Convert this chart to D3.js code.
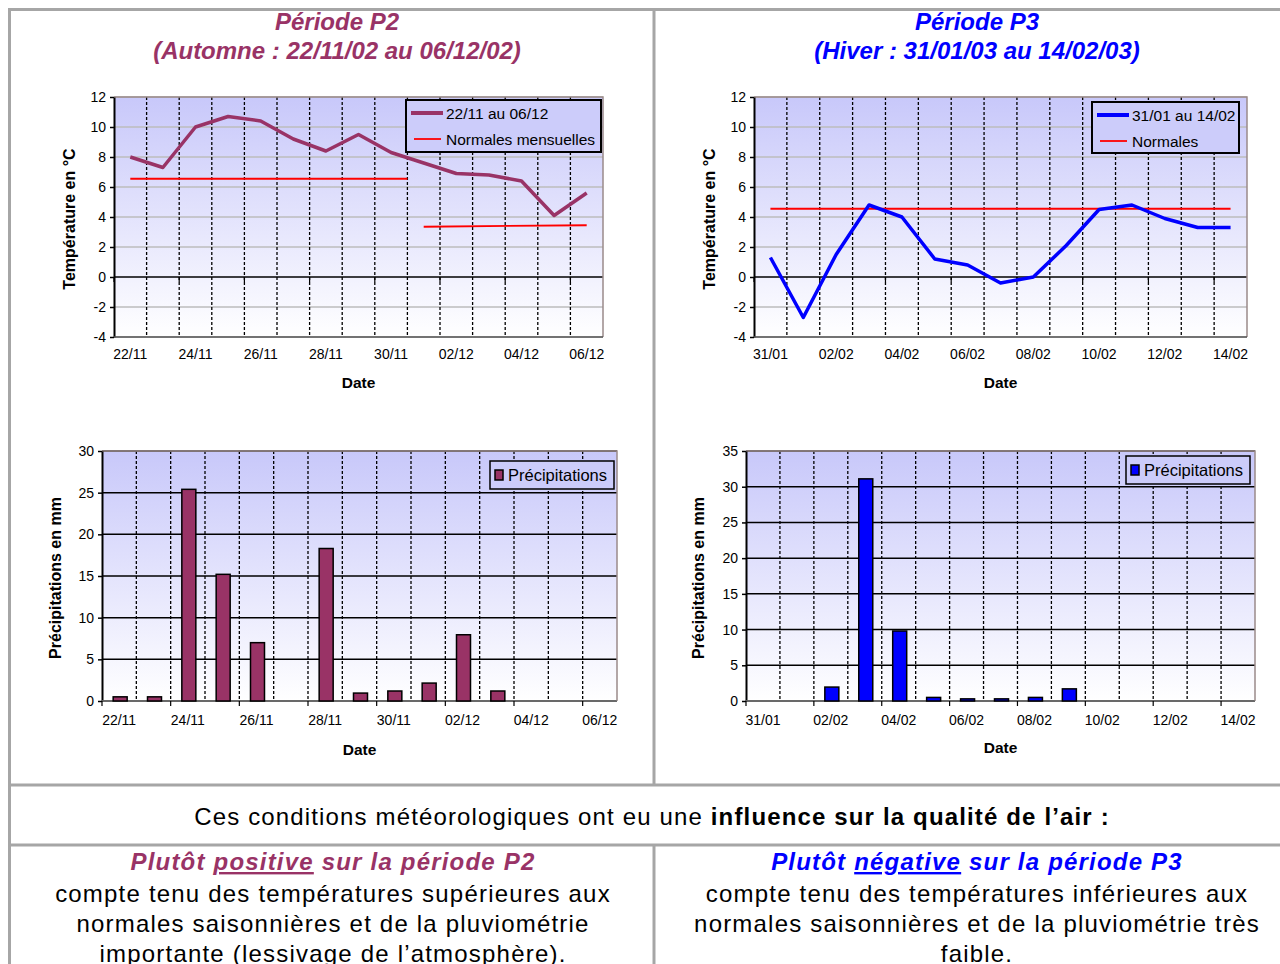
<!DOCTYPE html>
<html>
<head>
<meta charset="utf-8">
<script src="https://cdn.jsdelivr.net/npm/d3@7"></script>
<style>
  body { margin: 0; background: #fff; }
  svg text { font-family: "Liberation Sans", Arial, sans-serif; }
</style>
</head>
<body>
<script>
// --- data ---
var daysP2 = ['22/11','23/11','24/11','25/11','26/11','27/11','28/11','29/11','30/11','01/12','02/12','03/12','04/12','05/12','06/12'];
var daysP3 = ['31/01','01/02','02/02','03/02','04/02','05/02','06/02','07/02','08/02','09/02','10/02','11/02','12/02','13/02','14/02'];

var tempP2 = [8.0, 7.3, 10.0, 10.7, 10.4, 9.2, 8.4, 9.5, 8.3, 7.6, 6.9, 6.8, 6.4, 4.1, 5.6];
var tempP3 = [1.3, -2.7, 1.5, 4.8, 4.0, 1.2, 0.8, -0.4, 0.0, 2.1, 4.5, 4.8, 3.9, 3.3, 3.3];

// normals: [day index, value] segments (november runs to the month boundary)
var normP2Nov = [[0, 6.55], [8.5, 6.55]];
var normP2Dec = [[9, 3.35], [14, 3.45]];
var normP3 = [[0, 4.55], [14, 4.55]];

var rainP2 = [0.5, 0.5, 25.4, 15.2, 7.0, 0, 18.3, 0.95, 1.2, 2.15, 7.95, 1.2, 0, 0, 0];
var rainP3 = [0, 0, 1.95, 31.1, 9.8, 0.5, 0.3, 0.3, 0.5, 1.7, 0, 0, 0, 0, 0];

var tempTicks = [-4, -2, 0, 2, 4, 6, 8, 10, 12];
var rainTicksP2 = [0, 5, 10, 15, 20, 25, 30];
var rainTicksP3 = [0, 5, 10, 15, 20, 25, 30, 35];

var purple = '#993366', blue = '#0000ff', red = '#ff0000';

var svg = d3.select('body').append('svg').attr('width', 1280).attr('height', 964);

// background gradient used by every plot area
var grad = svg.append('defs').append('linearGradient').attr('id', 'bg')
    .attr('x1', 0).attr('y1', 0).attr('x2', 0).attr('y2', 1);
grad.append('stop').attr('offset', '0%').attr('stop-color', '#c8c8fa');
grad.append('stop').attr('offset', '100%').attr('stop-color', '#ffffff');

// --- table frame ---
var border = '#a6a6a6';
function hline(y, x0, x1){ svg.append('line').attr('x1', x0).attr('x2', x1).attr('y1', y).attr('y2', y).attr('stroke', border).attr('stroke-width', 3); }
function vline(x, y0, y1){ svg.append('line').attr('x1', x).attr('x2', x).attr('y1', y0).attr('y2', y1).attr('stroke', border).attr('stroke-width', 3); }
hline(9.5, 8, 1280);
hline(785, 8, 1280);
hline(845, 8, 1280);
vline(9.5, 8, 964);
vline(654, 8, 785);
vline(654, 845, 964);

function title(cx, lines, color){
    lines.forEach(function(t, i){
        svg.append('text').attr('x', cx).attr('y', 30 + i * 29)
            .attr('text-anchor', 'middle').attr('font-size', 24)
            .attr('font-weight', 'bold').attr('font-style', 'italic')
            .attr('fill', color).text(t);
    });
}
title(337, ['Période P2', '(Automne : 22/11/02 au 06/12/02)'], purple);
title(977, ['Période P3', '(Hiver : 31/01/03 au 14/02/03)'], blue);

// common frame for one chart: background, grid, axes, titles
function frame(o){
    var g = svg.append('g');
    var x = d3.scaleBand().domain(o.days).range([o.x0, o.x1]);
    var y = d3.scaleLinear().domain(o.yDomain).range([o.y1, o.y0]);

    g.append('rect').attr('x', o.x0).attr('y', o.y0)
        .attr('width', o.x1 - o.x0).attr('height', o.y1 - o.y0).attr('fill', 'url(#bg)');

    // horizontal grid
    g.selectAll('.hg').data(o.yTicks).enter().append('line')
        .attr('x1', o.x0).attr('x2', o.x1)
        .attr('y1', d => y(d)).attr('y2', d => y(d))
        .attr('stroke', d => d === 0 ? '#000' : o.gridColor)
        .attr('stroke-width', d => d === 0 ? 1.5 : o.gridWidth);

    // vertical dashed grid on category boundaries
    g.selectAll('.vg').data(o.days.slice(1)).enter().append('line')
        .attr('x1', d => x(d)).attr('x2', d => x(d))
        .attr('y1', o.y0).attr('y2', o.y1)
        .attr('stroke', '#000').attr('stroke-width', 1.3).attr('stroke-dasharray', '3,2');

    // frame right/top
    g.append('path').attr('d', 'M' + o.x0 + ',' + o.y0 + 'H' + o.x1 + 'V' + o.y1)
        .attr('fill', 'none').attr('stroke', '#9a8a8a').attr('stroke-width', 1.5);

    // left axis
    var ya = g.append('g').attr('transform', 'translate(' + o.x0 + ',0)')
        .call(d3.axisLeft(y).tickValues(o.yTicks).tickFormat(d => String(d))
            .tickSize(4).tickSizeOuter(0).tickPadding(4));
    ya.select('.domain').attr('stroke', '#000').attr('stroke-width', 2);
    ya.selectAll('.tick line').attr('stroke', '#000').attr('stroke-width', 1.5);
    ya.selectAll('text').attr('font-size', 14).attr('fill', '#000')
        .style('font-family', '"Liberation Sans", Arial, sans-serif');

    // bottom line and category ticks (every other boundary) on the zero line
    g.append('line').attr('x1', o.x0).attr('x2', o.x1).attr('y1', o.y1).attr('y2', o.y1)
        .attr('stroke', o.bottomColor).attr('stroke-width', 1.5);
    g.selectAll('.xt').data(o.days.filter((d, i) => i % 2 === 0)).enter().append('line')
        .attr('x1', d => x(d)).attr('x2', d => x(d))
        .attr('y1', y(0)).attr('y2', y(0) + 5)
        .attr('stroke', '#000').attr('stroke-width', 1.2);

    // category labels, every second day
    g.selectAll('.xl').data(o.days.filter((d, i) => i % 2 === 0)).enter().append('text')
        .attr('x', d => x(d) + x.bandwidth() / 2).attr('y', o.y1 + o.labelDy)
        .attr('text-anchor', 'middle').attr('font-size', 14).text(d => d);

    g.append('text').attr('x', (o.x0 + o.x1) / 2 + o.dateDx).attr('y', o.y1 + o.dateDy)
        .attr('text-anchor', 'middle').attr('font-size', 15.5).attr('font-weight', 'bold').text('Date');

    g.append('text')
        .attr('transform', 'translate(' + o.yTitleX + ',' + ((o.y0 + o.y1) / 2 + o.yTitleDy) + ') rotate(-90)')
        .attr('text-anchor', 'middle').attr('font-size', o.yTitleSize).attr('font-weight', 'bold').text(o.yTitle);

    return {g: g, x: x, y: y};
}

function tempChart(o){
    var f = frame(Object.assign({yDomain: [-4, 12], yTicks: tempTicks, gridColor: '#bdbdbd', gridWidth: 1.5,
        bottomColor: '#555', labelDy: 22, dateDy: 51, dateDx: 0, yTitle: 'Température en °C',
        yTitleSize: 16, yTitleDy: 2}, o));
    var xi = d3.scaleLinear().domain([0, 14]).range([f.x(o.days[0]) + f.x.bandwidth() / 2, f.x(o.days[14]) + f.x.bandwidth() / 2]);
    var line = d3.line().x(d => xi(d[0])).y(d => f.y(d[1]));
    o.normals.forEach(function(n){
        f.g.append('path').attr('d', line(n)).attr('fill', 'none').attr('stroke', red).attr('stroke-width', 1.8);
    });
    f.g.append('path').attr('d', line(o.temps.map((v, i) => [i, v])))
        .attr('fill', 'none').attr('stroke', o.color).attr('stroke-width', 3.5).attr('stroke-linejoin', 'round');

    // legend
    var L = o.legend;
    f.g.append('rect').attr('x', L.x).attr('y', L.y).attr('width', L.w).attr('height', L.h)
        .attr('fill', '#ccccfa').attr('stroke', '#000').attr('stroke-width', 2);
    f.g.append('line').attr('x1', L.x + 5).attr('x2', L.x + 37).attr('y1', L.y + 13).attr('y2', L.y + 13)
        .attr('stroke', o.color).attr('stroke-width', 4);
    f.g.append('line').attr('x1', L.x + 8).attr('x2', L.x + 35).attr('y1', L.y + 39).attr('y2', L.y + 39)
        .attr('stroke', red).attr('stroke-width', 1.8);
    f.g.append('text').attr('x', L.x + 40).attr('y', L.y + 19).attr('font-size', 15.5).text(L.labels[0]);
    f.g.append('text').attr('x', L.x + 40).attr('y', L.y + 45).attr('font-size', 15.5).text(L.labels[1]);
}

function rainChart(o){
    var f = frame(Object.assign({gridColor: '#000', gridWidth: 1.5, bottomColor: '#777',
        labelDy: 24, yTitle: 'Précipitations en mm', yTitleSize: 16, yTitleDy: 2}, o));
    var bw = 14;
    f.g.selectAll('.bar').data(o.rain.map((v, i) => ({d: o.days[i], v: v}))).enter().append('rect')
        .attr('x', d => f.x(d.d) + f.x.bandwidth() / 2 - bw / 2 + 1)
        .attr('y', d => f.y(d.v))
        .attr('width', bw)
        .attr('height', d => f.y(0) - f.y(d.v))
        .attr('fill', o.color).attr('stroke', d => d.v > 0 ? '#000' : 'none').attr('stroke-width', 1.5);

    var L = o.legend;
    f.g.append('rect').attr('x', L.x).attr('y', L.y).attr('width', L.w).attr('height', L.h)
        .attr('fill', '#ccccfa').attr('stroke', '#000').attr('stroke-width', 1.5);
    f.g.append('rect').attr('x', L.x + 5).attr('y', L.y + L.h / 2 - 5).attr('width', 8).attr('height', 10)
        .attr('fill', o.color).attr('stroke', '#000').attr('stroke-width', 1.5);
    f.g.append('text').attr('x', L.x + 18).attr('y', L.y + L.h / 2 + 6).attr('font-size', 16.5).text('Précipitations');
}

tempChart({days: daysP2, temps: tempP2, normals: [normP2Nov, normP2Dec], color: purple,
    x0: 114, x1: 603, y0: 97, y1: 337, yTitleX: 75,
    legend: {x: 406, y: 100, w: 195, h: 52, labels: ['22/11 au 06/12', 'Normales mensuelles']}});
tempChart({days: daysP3, temps: tempP3, normals: [normP3], color: blue,
    x0: 754, x1: 1247, y0: 97, y1: 337, yTitleX: 715,
    legend: {x: 1092, y: 102, w: 147, h: 51, labels: ['31/01 au 14/02', 'Normales']}});

rainChart({days: daysP2, rain: rainP2, color: purple, yDomain: [0, 30], yTicks: rainTicksP2,
    x0: 102, x1: 617, y0: 451, y1: 701, yTitleX: 61, dateDy: 54, dateDx: 0,
    legend: {x: 490, y: 461, w: 124, h: 28}});
rainChart({days: daysP3, rain: rainP3, color: blue, yDomain: [0, 35], yTicks: rainTicksP3,
    x0: 746, x1: 1255, y0: 451, y1: 701, yTitleX: 704, dateDy: 52, dateDx: 0,
    legend: {x: 1126, y: 456, w: 124, h: 28}});

// --- text part of the table ---
var mid = svg.append('text').attr('x', 652).attr('y', 825).attr('text-anchor', 'middle')
    .attr('font-size', 24).attr('letter-spacing', 1.15);
mid.append('tspan').text('Ces conditions météorologiques ont eu une ');
mid.append('tspan').attr('font-weight', 'bold').text('influence sur la qualité de l’air :');

function conclusion(cx, color, word, rest, body){
    var t = svg.append('text').attr('x', cx).attr('y', 870).attr('text-anchor', 'middle')
        .attr('font-size', 24).attr('letter-spacing', 1.2)
        .attr('font-weight', 'bold').attr('font-style', 'italic').attr('fill', color);
    t.append('tspan').text('Plutôt ');
    t.append('tspan').attr('text-decoration', 'underline').text(word);
    t.append('tspan').text(rest);
    body.forEach(function(line, i){
        svg.append('text').attr('x', cx).attr('y', 902 + i * 30).attr('text-anchor', 'middle')
            .attr('font-size', 24).attr('letter-spacing', 1.2).text(line);
    });
}
conclusion(333, purple, 'positive', ' sur la période P2',
    ['compte tenu des températures supérieures aux', 'normales saisonnières et de la pluviométrie', 'importante (lessivage de l’atmosphère).']);
conclusion(977, blue, 'négative', ' sur la période P3',
    ['compte tenu des températures inférieures aux', 'normales saisonnières et de la pluviométrie très', 'faible.']);
</script>
</body>
</html>
